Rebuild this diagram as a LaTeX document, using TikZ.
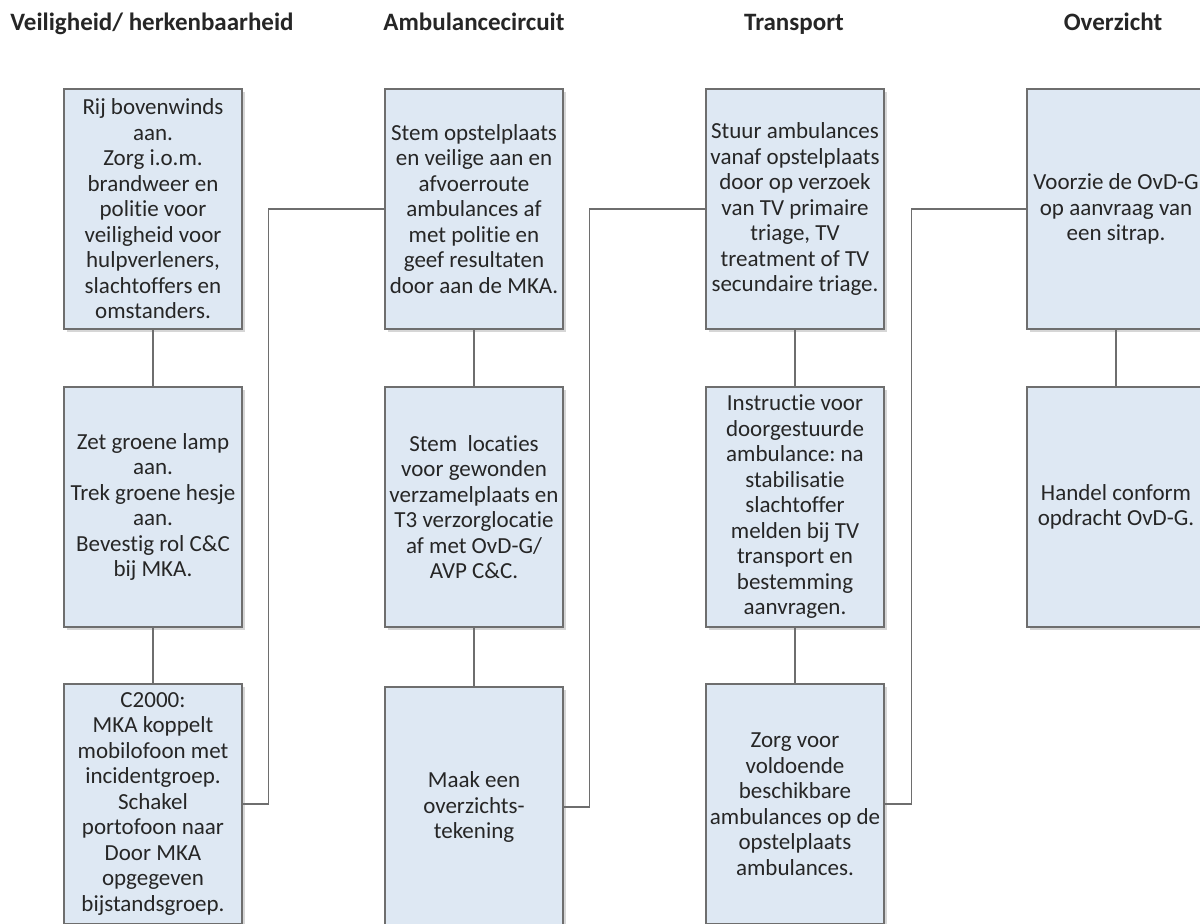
\documentclass[tikz,border=0pt]{standalone}
\usepackage{fontspec}
\setmainfont{Carlito}[Ligatures=NoCommon]
\usetikzlibrary{positioning,shadows}
\frenchspacing

\definecolor{boxfill}{HTML}{DEE8F3}
\definecolor{boxline}{HTML}{6E6E6E}
\definecolor{txt}{HTML}{262626}

\begin{document}
\begin{tikzpicture}[x=1pt,y=-1pt,node distance=298pt and 321pt,on grid]
       \tikzstyle{every node}=[text=txt]
       \tikzstyle{task}=[draw=boxline,line width=1.1pt,fill=boxfill,minimum width=178pt,minimum height=240pt,inner sep=0pt,align=center,
              font=\fontsize{23}{25.5}\selectfont,drop shadow={shadow xshift=3pt,shadow yshift=-3pt,fill=black!16,opacity=1}]
       \tikzstyle{head}=[anchor=base,font=\fontsize{25}{29}\selectfont\bfseries]
       \tikzstyle{link}=[draw=boxline,line width=1.1pt]

       \useasboundingbox[fill=white] (0,0) rectangle (1200,924);

       \node[head] (h_1) at (152,30) {Veiligheid/ herkenbaarheid};
       \node[head] (h_2) at (474,30) {Ambulancecircuit};
       \node[head] (h_3) at (794,30) {Transport};
       \node[head] (h_4) at (1113,30) {Overzicht};

       \node[task] (v_1) at (153,209) {Rij bovenwinds\\aan.\\Zorg i.o.m.\\brandweer en\\politie voor\\veiligheid voor\\hulpverleners,\\slachtoffers en\\omstanders.};
       \node[task] (v_2) [below=of v_1] {Zet groene lamp\\aan.\\Trek groene hesje\\aan.\\Bevestig rol C\&C\\bij MKA.};
       \node[task] (v_3) [below=297pt of v_2] {C2000:\\MKA koppelt\\mobilofoon met\\incidentgroep.\\Schakel\\portofoon naar\\Door MKA\\opgegeven\\bijstandsgroep.};

       \node[task] (a_1) [right=of v_1] {Stem opstelplaats\\en veilige aan en\\afvoerroute\\ambulances af\\met politie en\\geef resultaten\\door aan de MKA.};
       \node[task] (a_2) [below=of a_1] {Stem~ locaties\\voor gewonden\\verzamelplaats en\\T3 verzorglocatie\\af met OvD-G/\\AVP C\&C.};
       \node[task] (a_3) [below=300pt of a_2] {Maak een\\overzichts-\\tekening};

       \node[task] (t_1) [right=of a_1] {Stuur ambulances\\vanaf opstelplaats\\door op verzoek\\van TV primaire\\triage, TV\\treatment of TV\\secundaire triage.};
       \node[task] (t_2) [below=of t_1] {Instructie voor\\doorgestuurde\\ambulance: na\\stabilisatie\\slachtoffer\\melden bij TV\\transport en\\bestemming\\aanvragen.};
       \node[task] (t_3) [below=297pt of t_2] {Zorg voor\\voldoende\\beschikbare\\ambulances op de\\opstelplaats\\ambulances.};

       \node[task] (o_1) [right=of t_1] {Voorzie de OvD-G\\op aanvraag van\\een sitrap.};
       \node[task] (o_2) [below=of o_1] {Handel conform\\opdracht OvD-G.};

       % within each column
       \path[link] (v_1) -- (v_2) (v_2) -- (v_3);
       \path[link] (a_1) -- (a_2) (a_2) -- (a_3);
       \path[link] (t_1) -- (t_2) (t_2) -- (t_3);
       \path[link] (o_1) -- (o_2);

       % from one column to the next
       \path[link] (v_3.east) -- ++(26,0) |- (a_1.west);
       \path[link] (a_3.east) -- ++(26,0) |- (t_1.west);
       \path[link] (t_3.east) -- ++(27,0) |- (o_1.west);
     \end{tikzpicture}
\end{document}
